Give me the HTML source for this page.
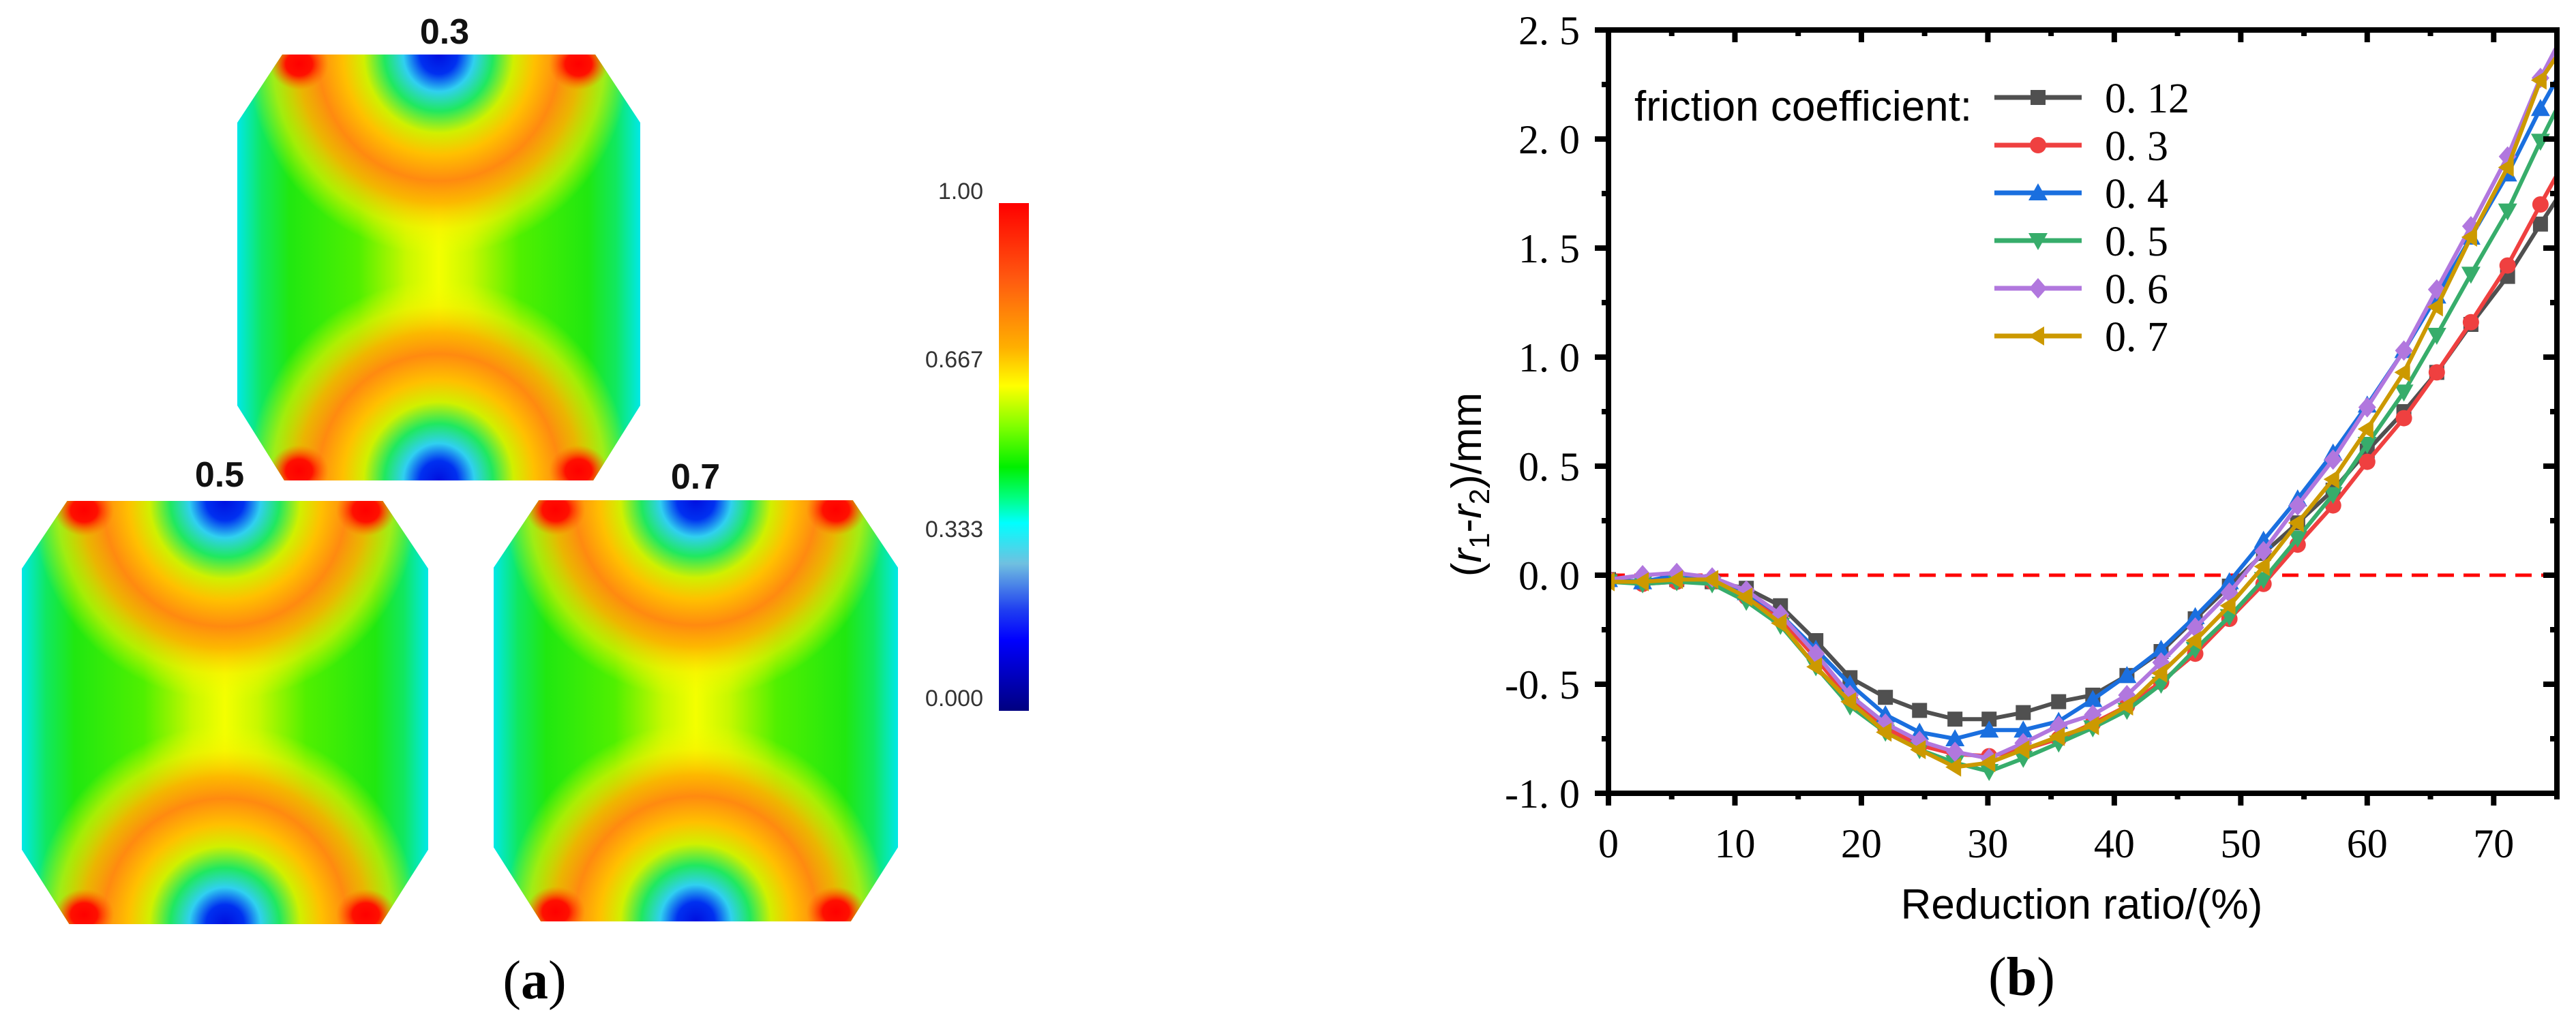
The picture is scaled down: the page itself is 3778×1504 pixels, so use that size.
<!DOCTYPE html>
<html><head><meta charset="utf-8"><title>Friction coefficient figure</title>
<style>
html,body{margin:0;padding:0;background:#fff;overflow:hidden;width:3778px;height:1504px;}
svg{display:block;}
</style></head>
<body>
<svg id="fig" xmlns="http://www.w3.org/2000/svg" width="3778" height="1504" viewBox="0 0 3778 1504">
<defs>
  <linearGradient id="baseH" x1="0" y1="0" x2="1" y2="0">
    <stop offset="0" stop-color="#00e8e8"/>
    <stop offset="0.06" stop-color="#10e860"/>
    <stop offset="0.13" stop-color="#20e810"/>
    <stop offset="0.3" stop-color="#50f000"/>
    <stop offset="0.42" stop-color="#c8f800"/>
    <stop offset="0.5" stop-color="#f4ff00"/>
    <stop offset="0.58" stop-color="#c8f800"/>
    <stop offset="0.7" stop-color="#50f000"/>
    <stop offset="0.87" stop-color="#20e810"/>
    <stop offset="0.94" stop-color="#10e860"/>
    <stop offset="1" stop-color="#00e8e8"/>
  </linearGradient>
  <radialGradient id="arcG" cx="0.5" cy="0.5" r="0.5">
    <stop offset="0" stop-color="#0010e0"/>
    <stop offset="0.09" stop-color="#0030f0"/>
    <stop offset="0.17" stop-color="#30d0f0"/>
    <stop offset="0.26" stop-color="#20e860"/>
    <stop offset="0.36" stop-color="#d0f000"/>
    <stop offset="0.46" stop-color="#ffc000"/>
    <stop offset="0.58" stop-color="#ff8a10"/>
    <stop offset="0.68" stop-color="#ffb000" stop-opacity="0.9"/>
    <stop offset="0.8" stop-color="#f8f000" stop-opacity="0.6"/>
    <stop offset="0.92" stop-color="#f0ff00" stop-opacity="0"/>
  </radialGradient>
  <radialGradient id="redG" cx="0.5" cy="0.5" r="0.5">
    <stop offset="0" stop-color="#ff0000"/>
    <stop offset="0.45" stop-color="#ff1000"/>
    <stop offset="1" stop-color="#ff6000" stop-opacity="0"/>
  </radialGradient>
  <linearGradient id="cbar" x1="0" y1="0" x2="0" y2="1">
    <stop offset="0" stop-color="#ff0000"/>
    <stop offset="0.15" stop-color="#ff5a10"/>
    <stop offset="0.285" stop-color="#ffb000"/>
    <stop offset="0.36" stop-color="#ffff00"/>
    <stop offset="0.44" stop-color="#80ff00"/>
    <stop offset="0.52" stop-color="#00f000"/>
    <stop offset="0.58" stop-color="#00ff80"/>
    <stop offset="0.63" stop-color="#00ffff"/>
    <stop offset="0.71" stop-color="#70c0e0"/>
    <stop offset="0.80" stop-color="#2040f0"/>
    <stop offset="0.86" stop-color="#0000ff"/>
    <stop offset="1" stop-color="#000080"/>
  </linearGradient>
  <clipPath id="meshClip" clipPathUnits="userSpaceOnUse">
    <polygon points="67,0 533,0 600,100 600,515 530,625 70,625 0,515 0,100"/>
  </clipPath>
  <clipPath id="plotClip"><rect x="2359" y="44" width="1391" height="1120"/></clipPath>
  <symbol id="meshSym" viewBox="0 0 600 625" preserveAspectRatio="none">
    <g clip-path="url(#meshClip)">
      <rect x="0" y="0" width="600" height="625" fill="url(#baseH)"/>
      <ellipse cx="300" cy="0" rx="310" ry="320" fill="url(#arcG)"/>
      <ellipse cx="300" cy="625" rx="310" ry="320" fill="url(#arcG)"/>
      <ellipse cx="92" cy="14" rx="44" ry="38" fill="url(#redG)"/>
      <ellipse cx="508" cy="14" rx="44" ry="38" fill="url(#redG)"/>
      <ellipse cx="92" cy="611" rx="44" ry="38" fill="url(#redG)"/>
      <ellipse cx="508" cy="611" rx="44" ry="38" fill="url(#redG)"/>
    </g>
  </symbol>
</defs>

<g>
  <use href="#meshSym" x="348" y="80" width="591" height="625"/>
  <use href="#meshSym" x="32" y="735" width="596" height="621"/>
  <use href="#meshSym" x="724" y="734" width="593" height="618"/>
  <text x="652" y="64" text-anchor="middle" font-family="Liberation Sans, sans-serif" font-size="52" font-weight="bold" fill="#111">0.3</text>
  <text x="322" y="714" text-anchor="middle" font-family="Liberation Sans, sans-serif" font-size="52" font-weight="bold" fill="#111">0.5</text>
  <text x="1020" y="717" text-anchor="middle" font-family="Liberation Sans, sans-serif" font-size="52" font-weight="bold" fill="#111">0.7</text>
  <rect x="1465" y="298" width="44" height="745" fill="url(#cbar)"/>
  <g font-family="Liberation Sans, sans-serif" font-size="34" fill="#333" text-anchor="end">
    <text x="1442" y="292">1.00</text>
    <text x="1442" y="539">0.667</text>
    <text x="1442" y="788">0.333</text>
    <text x="1442" y="1036">0.000</text>
  </g>
  <text x="784" y="1465" text-anchor="middle" font-family="Liberation Serif, serif" font-size="80" fill="#000">(<tspan font-weight="bold">a</tspan>)</text>
</g>

<g id="chart"></g>
</svg>

<script>
const xValues = [0, 2.7, 5.4, 8.2, 10.9, 13.6, 16.4, 19.1, 21.9, 24.6, 27.4, 30.1, 32.8, 35.6, 38.3, 41.0, 43.7, 46.4, 49.1, 51.8, 54.5, 57.3, 60.0, 62.9, 65.5, 68.2, 71.1, 73.7, 76.4];
const seriesNames = ["0. 12", "0. 3", "0. 4", "0. 5", "0. 6", "0. 7"];
const s012 = [-0.02,-0.03,-0.02,-0.03,-0.06,-0.14,-0.30,-0.47,-0.56,-0.62,-0.66,-0.66,-0.63,-0.58,-0.55,-0.46,-0.35,-0.20,-0.05,0.10,0.24,0.39,0.57,0.75,0.93,1.15,1.37,1.61,1.85];
const s03 = [-0.02,-0.04,-0.03,-0.03,-0.10,-0.20,-0.38,-0.57,-0.70,-0.78,-0.82,-0.83,-0.80,-0.75,-0.68,-0.60,-0.49,-0.36,-0.20,-0.04,0.14,0.32,0.52,0.72,0.93,1.16,1.42,1.70,1.98];
const s04 = [-0.02,-0.03,0.00,-0.01,-0.08,-0.18,-0.34,-0.50,-0.64,-0.72,-0.75,-0.71,-0.71,-0.67,-0.57,-0.46,-0.34,-0.19,-0.03,0.16,0.35,0.56,0.78,1.03,1.28,1.55,1.84,2.14,2.42];
const s05 = [-0.03,-0.04,-0.03,-0.04,-0.12,-0.23,-0.42,-0.60,-0.72,-0.80,-0.86,-0.90,-0.84,-0.77,-0.70,-0.62,-0.50,-0.34,-0.19,-0.02,0.17,0.37,0.60,0.84,1.10,1.38,1.67,1.99,2.30];
const s06 = [-0.02,0.00,0.01,-0.01,-0.07,-0.18,-0.36,-0.55,-0.68,-0.76,-0.81,-0.84,-0.77,-0.69,-0.64,-0.55,-0.40,-0.24,-0.08,0.11,0.32,0.53,0.77,1.03,1.31,1.60,1.92,2.28,2.58];
const s07 = [-0.03,-0.03,-0.02,-0.02,-0.10,-0.22,-0.42,-0.58,-0.72,-0.80,-0.88,-0.86,-0.80,-0.74,-0.69,-0.60,-0.45,-0.30,-0.14,0.04,0.24,0.44,0.67,0.93,1.23,1.55,1.87,2.27,2.50];
const xTicks = [0, 10, 20, 30, 40, 50, 60, 70];
const xTickLabels = ["0", "10", "20", "30", "40", "50", "60", "70"];
const yTicks = [-1, -0.5, 0, 0.5, 1, 1.5, 2, 2.5];
const yTickLabels = ["-1. 0", "-0. 5", "0. 0", "0. 5", "1. 0", "1. 5", "2. 0", "2. 5"];

const NS = "http://www.w3.org/2000/svg";
const X0 = 2359, X1 = 3750, Y0 = 1164, Y1 = 44;
const xMin = 0, xMax = 75, yMin = -1, yMax = 2.5;
function sx(v){ return X0 + (v - xMin) / (xMax - xMin) * (X1 - X0); }
function sy(v){ return Y0 - (v - yMin) / (yMax - yMin) * (Y0 - Y1); }
const chart = document.getElementById('chart');
function mk(tag, attrs, parent){
  const e = document.createElementNS(NS, tag);
  for (const k in attrs) e.setAttribute(k, attrs[k]);
  (parent || chart).appendChild(e);
  return e;
}
const colors = ["#505050", "#ef4040", "#1a6fdf", "#37ad6b", "#b177de", "#cc9900"];
const markers = ["square", "circle", "up", "down", "diamond", "left"];
const allSeries = [s012, s03, s04, s05, s06, s07];
const seriesKeys = ["0-12", "0-3", "0-4", "0-5", "0-6", "0-7"];

function drawMarker(type, x, y, color, parent){
  let e;
  if (type === "square") e = mk('rect', {x: x - 11, y: y - 11, width: 22, height: 22, fill: color}, parent);
  else if (type === "circle") e = mk('circle', {cx: x, cy: y, r: 12, fill: color}, parent);
  else if (type === "up") e = mk('polygon', {points: `${x},${y-14} ${x+14},${y+11} ${x-14},${y+11}`, fill: color}, parent);
  else if (type === "down") e = mk('polygon', {points: `${x},${y+14} ${x+14},${y-11} ${x-14},${y-11}`, fill: color}, parent);
  else if (type === "diamond") e = mk('polygon', {points: `${x},${y-15} ${x+13},${y} ${x},${y+15} ${x-13},${y}`, fill: color}, parent);
  else e = mk('polygon', {points: `${x-14},${y} ${x+9},${y-14} ${x+9},${y+14}`, fill: color}, parent);
  return e;
}

const zl = mk('line', {x1: sx(0), y1: sy(0), x2: sx(74.8), y2: sy(0), stroke: "#ff0000", "stroke-width": 5, "stroke-dasharray": "24 14"});



const plotG = mk('g', {"clip-path": "url(#plotClip)"});


allSeries.forEach((vals, i) => {
  const g = mk('g', {}, plotG);
  
  
  const pts = vals.map((v, j) => sx(xValues[j]) + ',' + sy(v)).join(' ');
  const pl = mk('polyline', {points: pts, fill: "none", stroke: colors[i], "stroke-width": 6, "stroke-linejoin": "round"}, g);
  
  
  vals.forEach((v, j) => {
    if (xValues[j] > xMax) return;
    const m = drawMarker(markers[i], sx(xValues[j]), sy(v), colors[i], g);
    
    
  });
});

const frame = mk('rect', {x: X0, y: Y1, width: X1 - X0, height: Y0 - Y1, fill: "none", stroke: "#000", "stroke-width": 8});



for (let v = 0; v <= 75; v += 5){
  const major = v % 10 === 0;
  const x = sx(v);
  const tb = mk('line', {x1: x, y1: Y0, x2: x, y2: Y0 + (major ? 18 : 9), stroke: "#000", "stroke-width": 8});
  
  
  const tt = mk('line', {x1: x, y1: Y1, x2: x, y2: Y1 + (major ? 18 : 9), stroke: "#000", "stroke-width": 8});
  
  
}
xTicks.forEach((v, i) => {
  const t = mk('text', {x: sx(v), y: 1258, "text-anchor": "middle", "font-family": "Liberation Serif, serif", "font-size": 60, fill: "#000"});
  t.textContent = xTickLabels[i];
  
  
});
for (let k = 0; k <= 14; k++){
  const v = -1 + k * 0.25;
  const major = k % 2 === 0;
  const y = sy(v);
  const tl = mk('line', {x1: X0, y1: y, x2: X0 - (major ? 20 : 10), y2: y, stroke: "#000", "stroke-width": 8});
  
  
  const tr = mk('line', {x1: X1, y1: y, x2: X1 - (major ? 20 : 10), y2: y, stroke: "#000", "stroke-width": 8});
  
  
}
yTicks.forEach((v, i) => {
  const t = mk('text', {x: 2317, y: sy(v) + 21, "text-anchor": "end", "font-family": "Liberation Serif, serif", "font-size": 60, fill: "#000"});
  t.textContent = yTickLabels[i];
  
  
});

const xt = mk('text', {x: 3053, y: 1348, "text-anchor": "middle", "font-family": "Liberation Sans, sans-serif", "font-size": 62, fill: "#000"});
xt.textContent = "Reduction ratio/(%)";



const yt = mk('text', {x: 0, y: 0, transform: "translate(2172,711) rotate(-90)", "text-anchor": "middle", "font-family": "Liberation Sans, sans-serif", "font-size": 62, fill: "#000"});
yt.innerHTML = '(<tspan font-style="italic">r</tspan><tspan font-size="42" dy="12">1</tspan><tspan dy="-12">-</tspan><tspan font-style="italic">r</tspan><tspan font-size="42" dy="12">2</tspan><tspan dy="-12">)/mm</tspan>';



const lg = mk('g', {});


const lt = mk('text', {x: 2397, y: 177, "font-family": "Liberation Sans, sans-serif", "font-size": 62, fill: "#000"}, lg);
lt.textContent = "friction coefficient:";


seriesNames.forEach((name, i) => {
  const y = 143 + i * 70;
  const eg = mk('g', {}, lg);
  
  
  mk('line', {x1: 2925, y1: y, x2: 3053, y2: y, stroke: colors[i], "stroke-width": 7}, eg);
  drawMarker(markers[i], 2989, y, colors[i], eg);
  const t = mk('text', {x: 3087, y: y + 22, "font-family": "Liberation Serif, serif", "font-size": 62, fill: "#000"}, eg);
  t.textContent = name;
});

const cap = mk('text', {x: 2965, y: 1460, "text-anchor": "middle", "font-family": "Liberation Serif, serif", "font-size": 80, fill: "#000"});
cap.innerHTML = '(<tspan font-weight="bold">b</tspan>)';


</script>
</body></html>
